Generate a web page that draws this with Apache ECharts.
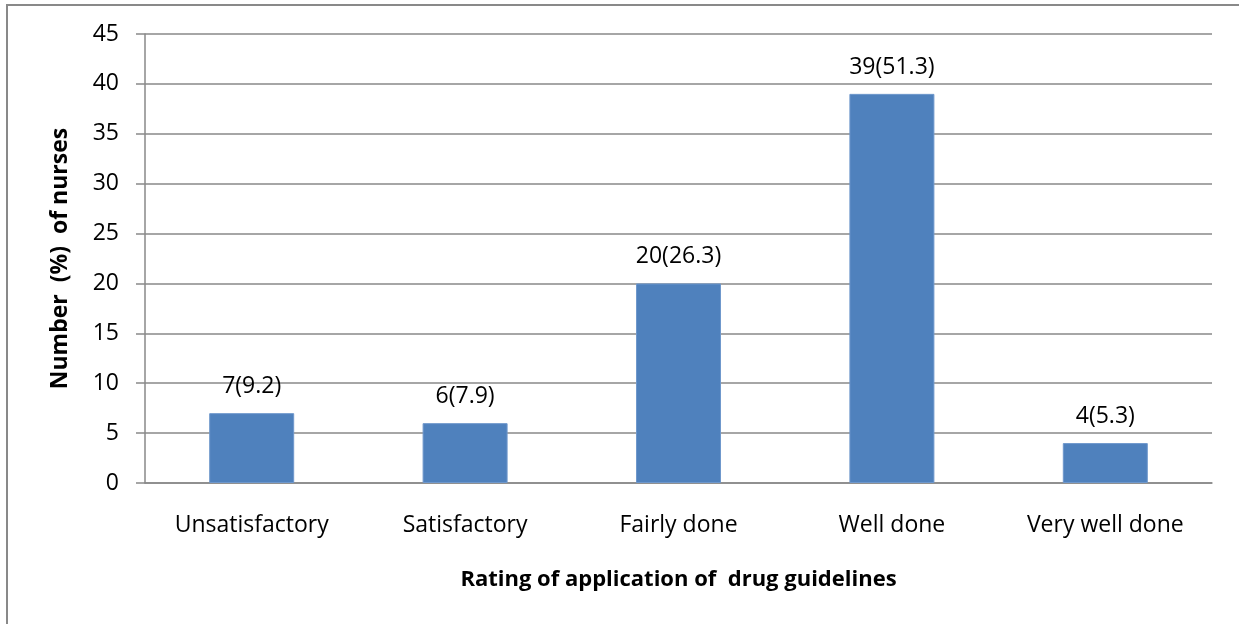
<!DOCTYPE html>
<html>
<head>
<meta charset="utf-8">
<script src="https://cdn.jsdelivr.net/npm/echarts@6/dist/echarts.min.js"></script>
<style>
  html, body { margin: 0; padding: 0; background: #fff; }
  #chart { width: 1239px; height: 624px; }
</style>
</head>
<body>
<div id="chart"></div>
<script>
// Ratings and nurse counts with percentage shares
const categories = ['Unsatisfactory', 'Satisfactory', 'Fairly done', 'Well done', 'Very well done'];
const counts = [7, 6, 20, 39, 4];
const percents = [9.2, 7.9, 26.3, 51.3, 5.3];

const FONT = '"Open Sans", Lato, sans-serif';
const GREY = '#898989';

const chart = echarts.init(document.getElementById('chart'));
chart.setOption({
  animation: false,
  backgroundColor: '#fff',
  graphic: [{
    type: 'rect',
    shape: { x: 7, y: 5, width: 1400, height: 800 },
    style: { fill: 'none', stroke: GREY, lineWidth: 2 },
    silent: true
  }],
  grid: { left: 145, right: 27, top: 34, bottom: 141 },
  xAxis: {
    type: 'category',
    data: categories,
    name: 'Rating of application of  drug guidelines',
    nameLocation: 'middle',
    nameGap: 86,
    nameTextStyle: { fontFamily: FONT, fontSize: 22, fontWeight: 'bold', color: '#000' },
    axisLine: { lineStyle: { color: GREY, width: 1.5 } },
    axisTick: { show: false },
    axisLabel: { fontFamily: FONT, fontSize: 23, color: '#000', margin: 31 }
  },
  yAxis: {
    type: 'value',
    min: 0, max: 45, interval: 5,
    name: 'Number  (%)  of nurses',
    nameLocation: 'middle',
    nameGap: 73,
    nameTextStyle: { fontFamily: FONT, fontSize: 23, fontWeight: 'bold', color: '#000' },
    axisLine: { show: true, lineStyle: { color: GREY, width: 1.5 } },
    axisTick: { show: true, length: 9, lineStyle: { color: GREY, width: 1.5 } },
    axisLabel: { fontFamily: FONT, fontSize: 23, color: '#000', margin: 26 },
    splitLine: { lineStyle: { color: GREY, width: 1.5 } }
  },
  series: [{
    type: 'bar',
    data: counts,
    barWidth: 85,
    itemStyle: { color: '#4F81BD', borderColor: '#6f98cc', borderWidth: 1 },
    label: {
      show: true,
      position: 'top',
      distance: 15,
      fontFamily: FONT,
      fontSize: 23,
      color: '#000',
      formatter: p => counts[p.dataIndex] + '(' + percents[p.dataIndex].toFixed(1) + ')'
    }
  }]
});
</script>
</body>
</html>
